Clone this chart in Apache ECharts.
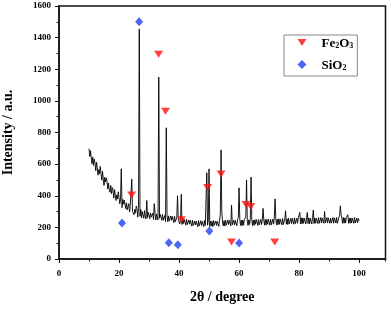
<!DOCTYPE html>
<html>
<head>
<meta charset="utf-8">
<script src="https://cdn.jsdelivr.net/npm/echarts@6/dist/echarts.min.js"></script>
<style>html,body{margin:0;padding:0;background:#fff;}#c{width:391px;height:309px;}</style>
</head>
<body>
<div id="c"></div>
<script>
// XRD scan: intensities every 0.25 degree from 10 to 100 degrees (2theta)
const scanStart = 10;
const scanStep = 0.25;
const intensity = [
  698,648,685,640, 602,645,592,632, 608,558,612,578, 530,565,540,585, 537,499,555,505,
  465,517,487,513, 493,443,480,435, 422,465,412,452, 435,385,439,405, 370,405,380,425,
  387,349,375,570, 325,377,347,373, 368,318,355,310, 307,350,297,337, 330,505,300,295,
  280,315,290,335, 317,265,320,1455, 270,313,260,300, 302,258,306,272, 253,370,262,296,
  295,255,290,265, 254,290,250,350, 288,246,285,260, 247,1150,258,282, 280,245,282,245,
  240,275,236,830, 275,235,273,240, 235,272,245,270, 265,230,270,235, 226,262,400,250,
  258,222,255,410, 218,255,225,250, 250,214,252,218, 212,246,220,245, 242,208,245,212,
  205,240,215,238, 240,204,242,210, 205,242,212,238, 238,205,244,212, 205,545,214,242,
  570,205,240,210, 238,204,244,214, 205,240,212,238, 240,206,245,280, 690,300,228,210,
  242,208,246,214, 209,246,218,244, 244,210,340,216, 210,245,216,244, 244,210,248,262,
  450,250,212,246, 210,246,214,248, 246,265,500,240, 212,248,218,250, 518,252,212,246,
  212,248,220,250, 248,212,250,216, 214,250,218,248, 320,246,214,250, 214,250,220,252,
  250,214,252,216, 216,252,220,262, 380,250,216,252, 216,254,220,252, 252,216,256,218,
  218,254,305,220, 254,218,258,222, 220,256,224,258, 256,220,260,224, 222,258,226,260,
  258,295,222,260, 222,260,226,258, 258,222,262,294, 224,260,222,258, 258,222,262,310,
  224,260,226,258, 260,224,262,226, 225,262,228,258, 260,226,300,228, 226,262,228,260,
  262,226,258,228, 228,262,226,260, 260,228,262,226, 228,262,275,336, 280,258,226,262,
  226,260,228,262, 262,280,226,258, 226,260,228,258, 258,226,262,228, 226,258,228,256,
  242
];
// Phase markers [2theta, intensity]
const fe2o3Marks = [[24.2,405],[33.2,1295],[35.5,935],[40.8,248],[49.5,452],[54.0,537],[57.5,107],[62.3,345],[63.9,332],[71.9,107]];
const sio2Marks = [[21.0,228],[26.7,1500],[36.6,103],[39.6,90],[50.1,177],[60.0,101]];
const xTicks = [0,20,40,60,80,100];
const yTicks = [0,200,400,600,800,1000,1200,1400,1600];

const scan = intensity.map((v,i)=>[scanStart + i*scanStep, v]);
const serif = 'Liberation Serif';
const lblStyle = {fontFamily: serif, fontWeight: 'bold', fontSize: 9, color: '#000'};

const chart = echarts.init(document.getElementById('c'), null, {renderer: 'canvas'});
chart.setOption({
  animation: false,
  backgroundColor: '#fff',
  grid: {left: 59, right: 5.5, top: 6, bottom: 50, containLabel: false, outerBoundsMode: 'none',
         show: true, borderColor: '#111', borderWidth: 1.5},
  legend: {
    orient: 'vertical', left: 284, top: 35,
    padding: [2, 4, 4, 13.5], itemGap: 9,
    itemWidth: 9, itemHeight: 9,
    borderColor: '#888', borderWidth: 1,
    data: ['Fe2O3', 'SiO2'],
    formatter: function(n){ return n === 'Fe2O3' ? '{f|Fe}{s|2}{m|O}{s|3}' : '{f|SiO}{s|2}'; },
    textStyle: {
      rich: {
        f: {fontFamily: serif, fontWeight: 'bold', fontSize: 13, color: '#000', lineHeight: 15, verticalAlign: 'bottom', padding: [0,0,0,10]},
        m: {fontFamily: serif, fontWeight: 'bold', fontSize: 13, color: '#000', lineHeight: 15, verticalAlign: 'bottom'},
        s: {fontFamily: serif, fontWeight: 'bold', fontSize: 8, color: '#000', lineHeight: 8, verticalAlign: 'bottom'}
      }
    }
  },
  xAxis: [{
    type: 'value', min: xTicks[0], max: 108.8, interval: xTicks[1]-xTicks[0],
    name: '2θ / degree', nameLocation: 'middle', nameGap: 31,
    nameTextStyle: {fontFamily: serif, fontWeight: 'bold', fontSize: 14, color: '#000'},
    axisLine: {show: true, lineStyle: {color: '#111', width: 1.5}},
    axisTick: {show: true, length: 4, lineStyle: {color: '#111', width: 1}},
    axisLabel: Object.assign({margin: 10, showMaxLabel: false,
      formatter: function(v){ return xTicks.indexOf(v) >= 0 ? String(v) : ''; }}, lblStyle),
    splitLine: {show: false}
  }, {
    type: 'value', min: xTicks[0], max: 108.8, interval: (xTicks[1]-xTicks[0])/2,
    position: 'bottom', gridIndex: 0,
    axisLine: {show: false}, axisLabel: {show: false},
    axisTick: {show: true, length: 2.5, lineStyle: {color: '#111', width: 1}},
    splitLine: {show: false}
  }],
  yAxis: {
    type: 'value', min: yTicks[0], max: yTicks[yTicks.length-1], interval: yTicks[1]-yTicks[0],
    name: 'Intensity / a.u.', nameLocation: 'middle', nameGap: 44, nameRotate: 90,
    nameTextStyle: {fontFamily: serif, fontWeight: 'bold', fontSize: 14, color: '#000'},
    axisLine: {show: true, lineStyle: {color: '#111', width: 1.5}},
    axisTick: {show: true, length: 4, lineStyle: {color: '#111', width: 1}},
    minorTick: {show: true, splitNumber: 2, length: 2.5, lineStyle: {color: '#111', width: 1}},
    axisLabel: Object.assign({margin: 8, formatter: function(v){ return String(v); }}, lblStyle),
    splitLine: {show: false}
  },
  series: [{
    name: 'scan', type: 'line', data: scan, showSymbol: false, symbol: 'none',
    lineStyle: {color: '#000', width: 0.9}, silent: true, z: 2
  }, {
    name: 'Fe2O3', type: 'scatter', data: fe2o3Marks,
    symbol: 'path://M0,0 L10,0 L5,8 Z', symbolSize: [9, 7],
    itemStyle: {color: '#ff1010'}, z: 3
  }, {
    name: 'SiO2', type: 'scatter', data: sio2Marks,
    symbol: 'diamond', symbolSize: [8, 9],
    itemStyle: {color: '#2040f0'}, z: 3
  }]
});
</script>
</body>
</html>
